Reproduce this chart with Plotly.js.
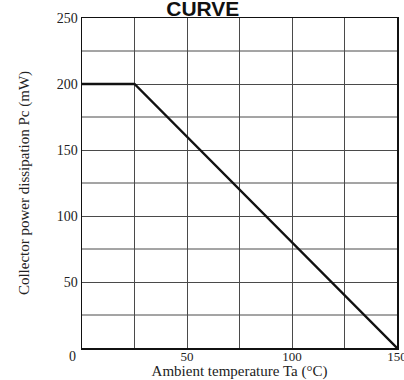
<!DOCTYPE html>
<html>
<head>
<meta charset="utf-8">
<script src="https://cdn.plot.ly/plotly-3.0.1.min.js"></script>
<style>html,body{margin:0;padding:0;background:#fff;}#chart{width:404px;height:380px;}</style>
</head>
<body>
<div id="chart"></div>
<script>
// Derating curve: Ambient temperature (°C) vs collector power dissipation (mW)
const temperature = [0, 25, 150];
const powerDissipation = [200, 200, 0];
const xTickVals = [50, 100, 150];
const xTickText = ['50', '100', '150'];
const yTickVals = [50, 100, 150, 200, 250];
const yTickText = ['50', '100', '150', '200', '250'];

const serif = 'Liberation Serif, Times New Roman, serif';
const gridCol = '#4a4a4a';

const trace = {
  x: temperature,
  y: powerDissipation,
  type: 'scatter',
  mode: 'lines',
  line: {color: '#111', width: 2.3},
  hoverinfo: 'skip'
};

const extraGrid = [];
[25, 75, 125].forEach(v => extraGrid.push({type: 'line', xref: 'x', yref: 'y', x0: v, x1: v, y0: 0, y1: 250, line: {color: gridCol, width: 1}, layer: 'below'}));
[25, 75, 125, 175, 225].forEach(v => extraGrid.push({type: 'line', xref: 'x', yref: 'y', x0: 0, x1: 150, y0: v, y1: v, line: {color: gridCol, width: 1}, layer: 'below'}));

const layout = {
  width: 404,
  height: 380,
  margin: {l: 82, r: 7, t: 18, b: 32},
  paper_bgcolor: '#fff',
  plot_bgcolor: '#fff',
  showlegend: false,
  title: {
    text: '<b>CURVE</b>',
    font: {family: 'Liberation Sans, Arial, sans-serif', size: 21, color: '#111'},
    x: 0.502, xanchor: 'center', xref: 'container',
    y: 0.9775, yanchor: 'middle', yref: 'container',
    pad: {t: 0, b: 0}
  },
  xaxis: {
    range: [0, 150],
    showgrid: true, gridcolor: gridCol, gridwidth: 1,
    showline: true, linecolor: '#111', linewidth: 1.5, mirror: true,
    zeroline: false,
    tickmode: 'array', tickvals: xTickVals, ticktext: xTickText,
    ticks: '', ticklen: 0,
    ticklabelstandoff: -4,
    ticklabeloverflow: 'allow',
    tickfont: {family: serif, size: 13, color: '#222'},
    title: {text: 'Ambient temperature Ta (°C)', font: {family: serif, size: 15, color: '#222'}, standoff: 1},
    automargin: false,
    fixedrange: true
  },
  yaxis: {
    range: [0, 250],
    showgrid: true, gridcolor: gridCol, gridwidth: 1,
    showline: true, linecolor: '#111', linewidth: 1.5, mirror: true,
    zeroline: false,
    tickmode: 'array', tickvals: yTickVals, ticktext: yTickText,
    ticks: '', ticklen: 0,
    tickfont: {family: serif, size: 14, color: '#222'},
    title: {text: 'Collector power dissipation Pc (mW)', font: {family: serif, size: 15, color: '#222'}, standoff: 23},
    automargin: false,
    fixedrange: true
  },
  shapes: extraGrid,
  annotations: [
    {text: '0', xref: 'x', yref: 'y', x: 0, y: 0, xshift: -10, yshift: -8, showarrow: false,
     font: {family: serif, size: 14, color: '#222'}, xanchor: 'center', yanchor: 'middle'}
  ]
};

Plotly.newPlot('chart', [trace], layout, {displayModeBar: false, staticPlot: true});
</script>
</body>
</html>
